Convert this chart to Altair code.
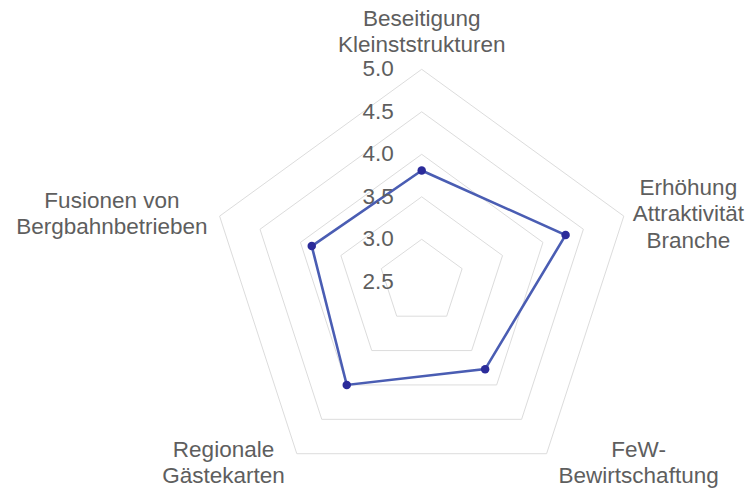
import math
import altair as alt
import pandas as pd

# ---- data ----
categories = [
    "Beseitigung\nKleinststrukturen",
    "Erhöhung\nAttraktivität\nBranche",
    "FeW-\nBewirtschaftung",
    "Regionale\nGästekarten",
    "Fusionen von\nBergbahnbetrieben",
]
values = [3.81, 4.28, 3.77, 4.00, 3.86]
ring_levels = [3.0, 3.5, 4.0, 4.5, 5.0]
tick_values = [2.5, 3.0, 3.5, 4.0, 4.5, 5.0]
tick_labels = ["2.5", "3.0", "3.5", "4.0", "4.5", "5.0"]
R_MIN, R_MAX = 2.5, 5.0

# ---- layout ----
W, H = 737, 481
CX, CY = 413.7, 273.8          # centre of the radar in view pixels
R_PX = 212.5                    # outer ring radius in px
PX = R_PX / (R_MAX - R_MIN)     # px per unit
FONT = "Liberation Sans"
FS = 22.5
LH = 26.5
TEXT_COLOR = "#5e5e5e"
GRID_COLOR = "#dcdcdc"
LINE_COLOR = "#4a5db3"
POINT_COLOR = "#2b2b9a"

XD = [-CX / PX, (W - CX) / PX]
YD = [-(H - CY) / PX, CY / PX]

n = len(categories)
angles = [2 * math.pi * k / n for k in range(n)]


def pos(r, th):
    return r * math.sin(th), r * math.cos(th)


# Arial-like advance widths (per 1000 em) to centre multi-line labels
_w = {c: 556 for c in "abdeghnopqäöü"}
_w.update({"c": 500, "f": 278, "i": 222, "j": 222, "k": 500, "l": 222, "m": 833,
           "r": 333, "s": 500, "t": 278, "v": 500, "w": 722, "x": 500, "y": 500,
           "z": 500, "A": 667, "B": 667, "E": 667, "F": 611, "G": 778, "K": 667,
           "R": 722, "W": 944, "-": 333, " ": 278})


def text_w(s):
    return sum(_w.get(c, 556) for c in s) / 1000 * FS


# rings
ring_rows = []
for lv in ring_levels:
    for k in range(n + 1):
        x, y = pos(lv - R_MIN, angles[k % n])
        ring_rows.append({"level": lv, "ord": k, "x": x, "y": y})
rings = pd.DataFrame(ring_rows)

# data polygon
poly_rows = []
for k in range(n + 1):
    x, y = pos(values[k % n] - R_MIN, angles[k % n])
    poly_rows.append({"ord": k, "x": x, "y": y, "cat": categories[k % n], "value": values[k % n]})
poly = pd.DataFrame(poly_rows)
pts = poly.iloc[:n]

# tick labels along the top spoke
ticks = pd.DataFrame({"x": [0.0] * len(tick_values),
                      "y": [v - R_MIN for v in tick_values],
                      "label": tick_labels})

# category labels, one row per text line
lab_rows = []
PAD = 12
for k, cat in enumerate(categories):
    th = angles[k]
    lines = cat.split("\n")
    m = len(lines)
    vx, vy = pos(R_PX, th)        # pixel offsets, y up
    s, c = math.sin(th), math.cos(th)
    maxw = max(text_w(l) for l in lines)
    if c > 0.95:
        xc = vx
        ys = [vy + 24 + (m - 1 - i) * LH for i in range(m)]
    else:
        xc = vx + (1 if s > 0 else -1) * (PAD + maxw / 2)
        # keep the block inside the drawing
        xc = min(xc, (W - CX) - maxw / 2 - 1)
        xc = max(xc, -CX + maxw / 2 + 1)
        if c < -0.5:
            ys = [vy + 4 - i * LH for i in range(m)]
        else:
            ys = [vy + 2 + ((m - 1) / 2 - i) * LH for i in range(m)]
    for i, line in enumerate(lines):
        lab_rows.append({"x": xc / PX, "y": ys[i] / PX, "text": line})
labels = pd.DataFrame(lab_rows)

X = lambda: alt.X("x:Q", scale=alt.Scale(domain=XD, nice=False, zero=False), axis=None)
Y = lambda: alt.Y("y:Q", scale=alt.Scale(domain=YD, nice=False, zero=False), axis=None)

ring_layer = alt.Chart(rings).mark_line(color=GRID_COLOR, strokeWidth=1).encode(
    x=X(), y=Y(), detail="level:N", order="ord:Q")

line_layer = alt.Chart(poly).mark_line(color=LINE_COLOR, strokeWidth=2.6).encode(
    x=X(), y=Y(), order="ord:Q")

point_layer = alt.Chart(pts).mark_circle(color=POINT_COLOR, size=72, opacity=1).encode(
    x=X(), y=Y())

tick_layer = alt.Chart(ticks).mark_text(
    align="right", baseline="middle", dx=-28, font=FONT, fontSize=FS, color=TEXT_COLOR
).encode(x=X(), y=Y(), text="label:N")

label_layer = alt.Chart(labels).mark_text(
    align="center", baseline="middle", font=FONT, fontSize=FS, color=TEXT_COLOR
).encode(x=X(), y=Y(), text="text:N")

chart = alt.layer(ring_layer, line_layer, point_layer, tick_layer, label_layer).properties(
    width=W, height=H, padding=0, autosize=alt.AutoSizeParams(type="none")
).configure_view(stroke=None)

chart.save("out.html", embed_options={"renderer": "svg", "actions": False})
